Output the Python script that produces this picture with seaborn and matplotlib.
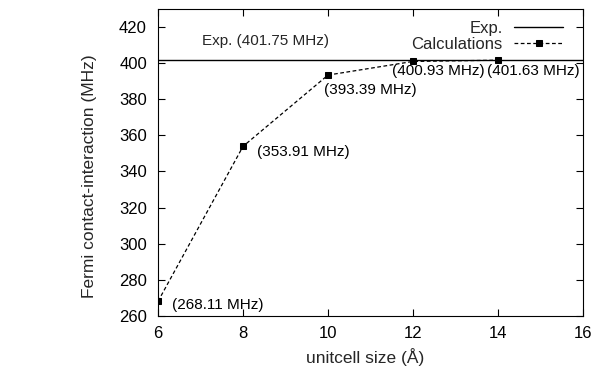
import matplotlib
matplotlib.use("Agg")
import matplotlib.pyplot as plt
import seaborn as sns
import pandas as pd

cell_size = [6, 8, 10, 12, 14]
fermi = [268.11, 353.91, 393.39, 400.93, 401.63]
exp_value = 401.75
labels = ["(268.11 MHz)", "(353.91 MHz)", "(393.39 MHz)", "(400.93 MHz)", "(401.63 MHz)"]
label_pos = [(6.33, 266), (8.33, 351), (9.9, 385), (11.5, 395.5), (13.74, 395.5)]

sns.set_theme(style="ticks")
plt.rcParams['font.family'] = ['Liberation Sans', 'DejaVu Sans']
fs = 11

df = pd.DataFrame({"x": cell_size, "y": fermi})

fig = plt.figure(figsize=(6.01, 3.73), dpi=100)
ax = fig.add_axes([0.263, 0.153, 0.707, 0.823])

ax.axhline(exp_value, color="black", lw=1.0, label="Exp.")
sns.lineplot(data=df, x="x", y="y", ax=ax, color="black", lw=0.9,
             linestyle=(0, (3, 2)), marker="s", markersize=4.5,
             markeredgecolor="black", label="Calculations")

for (tx, ty), t in zip(label_pos, labels):
    ax.text(tx, ty, t, fontsize=fs, va="center", ha="left", color="black")
ax.text(7.04, 412, "Exp. (401.75 MHz)", fontsize=fs, va="center", ha="left")

ax.set_xlim(6, 16)
ax.set_ylim(260, 430)
ax.set_xticks([6, 8, 10, 12, 14, 16])
ax.set_yticks(range(260, 430, 20))
ax.tick_params(direction="in", top=True, right=True, length=5, width=0.8,
               labelsize=12, colors="black")
ax.tick_params(axis="x", pad=7)
ax.tick_params(axis="y", pad=8)
for s in ax.spines.values():
    s.set_linewidth(0.8)
    s.set_color("black")
ax.set_xlabel("unitcell size (Å)", fontsize=12.5, labelpad=5)
ax.set_ylabel("Fermi contact-interaction (MHz)", fontsize=12.5, labelpad=16)
ax.xaxis.label.set_x(0.488)
ax.yaxis.label.set_y(0.456)

leg = ax.legend(loc="upper right", frameon=False, markerfirst=False,
                fontsize=12, handlelength=2.9, borderaxespad=0.3,
                labelspacing=0.1, handletextpad=0.7, bbox_to_anchor=(0.98, 1.0))

fig.savefig("out.png", dpi=100)
